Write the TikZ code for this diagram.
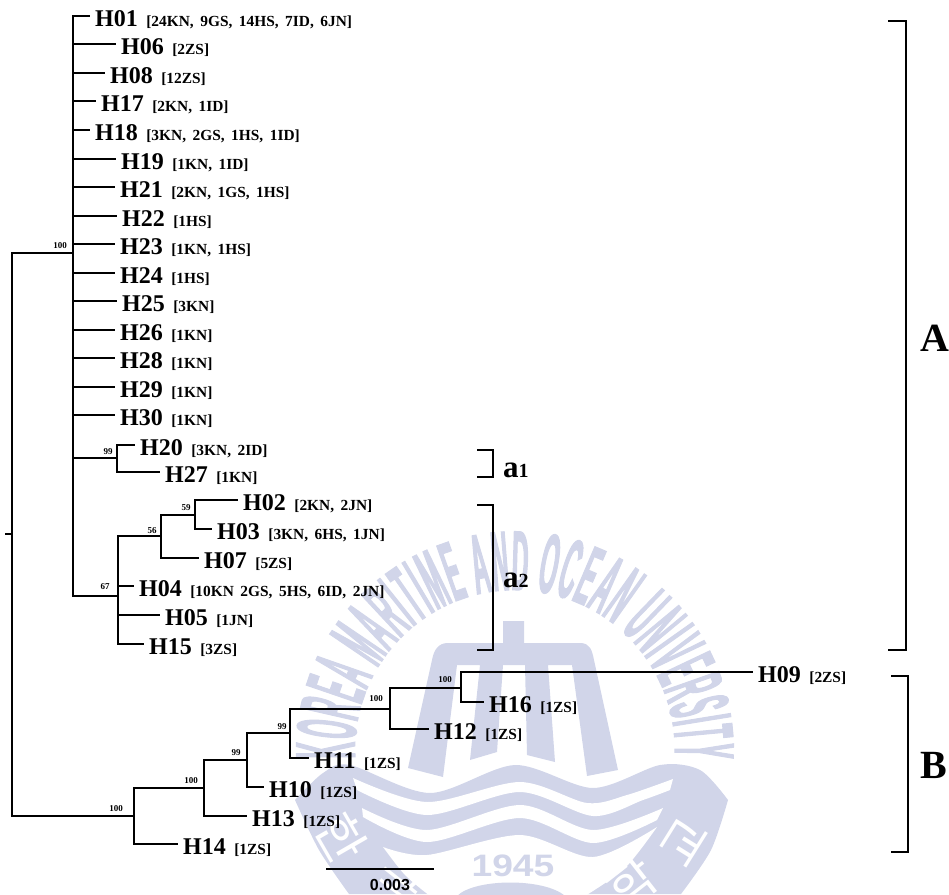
\documentclass[tikz,border=0pt]{standalone}
\usepackage{fontspec}
\setmainfont{Liberation Serif}
\newfontfamily\scalefont{Liberation Sans}
\newfontfamily\wmfont[FakeStretch=0.27,FakeBold=1.2]{Liberation Sans Bold}
\newfontfamily\krfont{Noto Sans CJK KR}
\usetikzlibrary{decorations.text}
\definecolor{wmblue}{HTML}{D1D5E9}
\newcommand\spl[1]{\hspace{8.5pt}{\fontsize{15.4}{16}\selectfont\spaceskip=6.5pt[#1]}}
\newcommand\wmstyle{\wmfont\fontsize{85}{85}\selectfont\color{wmblue}}
\tikzset{
  branch/.style={line width=2.2pt,black},
  clade/.style={line width=2.6pt,black},
  leaf/.style={anchor=west,inner xsep=5pt,inner ysep=0pt,text height=20pt,text depth=0pt,font=\fontsize{24}{24}\selectfont\bfseries},
  boot/.style={inner sep=0pt,font=\fontsize{9}{9}\selectfont\bfseries},
  bigtag/.style={anchor=base west,inner sep=0pt,font=\fontsize{40}{40}\selectfont\bfseries},
  smalltag/.style={anchor=base west,inner sep=0pt,font=\fontsize{31}{31}\selectfont\bfseries},
  korean/.style={inner sep=0pt,white,font=\krfont\fontsize{50}{50}\selectfont},
}
\begin{document}
\begin{tikzpicture}[x=1pt,y=-1pt]
\useasboundingbox (0,0) rectangle (949,894);
\begin{scope}
\clip (0,0) rectangle (949,894);
\path[decorate,decoration={text along path,text align={fit to path},text={|\wmstyle|KOREA MARITIME AND OCEAN UNIVERSITY}}]
  (355.2,758.4) arc[start angle=183,end angle=-3,radius=160pt];
\fill[wmblue] (503,621) -- (524,621) -- (524,643) -- (580,643) .. controls (590,643) and (592,650) .. (594,660) -- (618,770) -- (587,776) -- (572,665) -- (548,665) -- (555,762) -- (527,755) -- (525,665) -- (503,665) -- (497,752) -- (470,760) -- (480,665) -- (457,665) -- (443,777) -- (408,768) -- (432,660) .. controls (434,650) and (438,643) .. (448,643) -- (503,643) -- cycle;
\fill[wmblue] plot[smooth] coordinates {(295,800) (323,773) (350,765) (430,793) (515,765) (593,788) (660,765) (700,770) (728,800)}
  -- plot[smooth] coordinates {(728,800) (711,850) (681,894)}
  -- plot[smooth] coordinates {(349,894) (319,850) (295,800)} -- cycle;
\fill[white] plot[smooth] coordinates {(353,778) (427,802) (520,782) (587,803) (627,795) (673,779)}
  -- plot[smooth] coordinates {(670,790) (643,800) (593,816) (520,792) (427,815) (357,790)} -- cycle;
\fill[white] plot[smooth] coordinates {(362,808) (427,830) (520,805) (593,830) (663,808)}
  -- plot[smooth] coordinates {(657,820) (593,843) (520,818) (427,842) (363,817)} -- cycle;
\fill[white] plot[smooth] coordinates {(383,847) (427,855) (520,835) (593,857) (657,827)}
  -- plot[smooth] coordinates {(657,827) (625,868) (585,896)} -- (430,896)
  -- plot[smooth] coordinates {(430,896) (405,875) (383,847)} -- cycle;
\fill[wmblue] (457,896) .. controls (475,878) and (545,878) .. (565,896) -- cycle;
\node[inner sep=0pt,wmblue,xscale=1.2] (wmyear) at (513,866) {\scalefont\bfseries\fontsize{31}{31}\selectfont 1945};
\node[korean,rotate=-60] (wmk1) at (342,838) {한};
\node[korean,rotate=-38] (wmk2) at (398,884) {국};
\node[korean,rotate=38] (wmk3) at (632,882) {학};
\node[korean,rotate=58] (wmk4) at (684,842) {교};
\end{scope}

\coordinate (stub) at (5,534);
\coordinate (root) at (12,534);
\coordinate (nA) at (73,253);
\coordinate (nAa) at (117,458);
\coordinate (nAb) at (118,596);
\coordinate (nAc) at (161,536);
\coordinate (nAd) at (195,515);
\coordinate (nB) at (134,816);
\coordinate (nB1) at (204,788);
\coordinate (nB2) at (247,760);
\coordinate (nB3) at (290,733);
\coordinate (nB4) at (390,709);
\coordinate (nB5) at (461,688);

\node[leaf] (h01) at (90,16) {H01\spl{24KN, 9GS, 14HS, 7ID, 6JN}};
\node[leaf] (h06) at (116,44) {H06\spl{2ZS}};
\node[leaf] (h08) at (105,73) {H08\spl{12ZS}};
\node[leaf] (h17) at (96,101) {H17\spl{2KN, 1ID}};
\node[leaf] (h18) at (90,130) {H18\spl{3KN, 2GS, 1HS, 1ID}};
\node[leaf] (h19) at (116,159) {H19\spl{1KN, 1ID}};
\node[leaf] (h21) at (115,187) {H21\spl{2KN, 1GS, 1HS}};
\node[leaf] (h22) at (117,216) {H22\spl{1HS}};
\node[leaf] (h23) at (115,244) {H23\spl{1KN, 1HS}};
\node[leaf] (h24) at (115,273) {H24\spl{1HS}};
\node[leaf] (h25) at (117,301) {H25\spl{3KN}};
\node[leaf] (h26) at (115,330) {H26\spl{1KN}};
\node[leaf] (h28) at (115,358) {H28\spl{1KN}};
\node[leaf] (h29) at (115,387) {H29\spl{1KN}};
\node[leaf] (h30) at (115,415) {H30\spl{1KN}};
\node[leaf] (h20) at (135,445) {H20\spl{3KN, 2ID}};
\node[leaf] (h27) at (160,472) {H27\spl{1KN}};
\node[leaf] (h02) at (238,500) {H02\spl{2KN, 2JN}};
\node[leaf] (h03) at (212,529) {H03\spl{3KN, 6HS, 1JN}};
\node[leaf] (h07) at (199,558) {H07\spl{5ZS}};
\node[leaf] (h04) at (134,586) {H04\spl{10KN 2GS, 5HS, 6ID, 2JN}};
\node[leaf] (h05) at (160,615) {H05\spl{1JN}};
\node[leaf] (h15) at (144,644) {H15\spl{3ZS}};
\node[leaf] (h09) at (753,672) {H09\spl{2ZS}};
\node[leaf] (h16) at (484,702) {H16\spl{1ZS}};
\node[leaf] (h12) at (429,729) {H12\spl{1ZS}};
\node[leaf] (h11) at (309,758) {H11\spl{1ZS}};
\node[leaf] (h10) at (264,787) {H10\spl{1ZS}};
\node[leaf] (h13) at (247,816) {H13\spl{1ZS}};
\node[leaf] (h14) at (178,844) {H14\spl{1ZS}};

\draw[branch] (stub) -- (root);
\draw[branch] (root) |- (nA);
\draw[branch] (root) |- (nB);
\draw[branch] (nA) |- (h01.west);
\draw[branch] (nA) |- (h06.west);
\draw[branch] (nA) |- (h08.west);
\draw[branch] (nA) |- (h17.west);
\draw[branch] (nA) |- (h18.west);
\draw[branch] (nA) |- (h19.west);
\draw[branch] (nA) |- (h21.west);
\draw[branch] (nA) |- (h22.west);
\draw[branch] (nA) |- (h23.west);
\draw[branch] (nA) |- (h24.west);
\draw[branch] (nA) |- (h25.west);
\draw[branch] (nA) |- (h26.west);
\draw[branch] (nA) |- (h28.west);
\draw[branch] (nA) |- (h29.west);
\draw[branch] (nA) |- (h30.west);
\draw[branch] (nA) |- (nAa);
\draw[branch] (nA) |- (nAb);
\draw[branch] (nAa) |- (h20.west);
\draw[branch] (nAa) |- (h27.west);
\draw[branch] (nAb) |- (nAc);
\draw[branch] (nAb) |- (h04.west);
\draw[branch] (nAb) |- (h05.west);
\draw[branch] (nAb) |- (h15.west);
\draw[branch] (nAc) |- (nAd);
\draw[branch] (nAc) |- (h07.west);
\draw[branch] (nAd) |- (h02.west);
\draw[branch] (nAd) |- (h03.west);
\draw[branch] (nB) |- (nB1);
\draw[branch] (nB) |- (h14.west);
\draw[branch] (nB1) |- (nB2);
\draw[branch] (nB1) |- (h13.west);
\draw[branch] (nB2) |- (nB3);
\draw[branch] (nB2) |- (h10.west);
\draw[branch] (nB3) |- (nB4);
\draw[branch] (nB3) |- (h11.west);
\draw[branch] (nB4) |- (nB5);
\draw[branch] (nB4) |- (h12.west);
\draw[branch] (nB5) |- (h09.west);
\draw[branch] (nB5) |- (h16.west);

\node[boot] (bA) at (60,246) {100};
\node[boot] (bAa) at (108,452) {99};
\node[boot] (bAb) at (105,587) {67};
\node[boot] (bAc) at (152,531) {56};
\node[boot] (bAd) at (186,508) {59};
\node[boot] (bB) at (116,809) {100};
\node[boot] (bB1) at (191,781) {100};
\node[boot] (bB2) at (236,753) {99};
\node[boot] (bB3) at (282,727) {99};
\node[boot] (bB4) at (376,699) {100};
\node[boot] (bB5) at (445,680) {100};

\coordinate (brAt) at (888,21);
\coordinate (brAb) at (888,650);
\coordinate (brBt) at (891,676);
\coordinate (brBb) at (891,852);
\coordinate (bra1t) at (477,450);
\coordinate (bra1b) at (477,477);
\coordinate (bra2t) at (477,505);
\coordinate (bra2b) at (477,650);
\draw[clade] (brAt) -- ++(18,0) |- (brAb);
\draw[clade] (brBt) -- ++(17,0) |- (brBb);
\draw[clade] (bra1t) -- ++(16,0) |- (bra1b);
\draw[clade] (bra2t) -- ++(16,0) |- (bra2b);
\node[bigtag] (tagA) at (920,351) {A};
\node[bigtag] (tagB) at (920,778) {B};
\node[smalltag] (taga1) at (503,477) {a{\fontsize{20}{20}\selectfont 1}};
\node[smalltag] (taga2) at (503,587) {a{\fontsize{20}{20}\selectfont 2}};

\coordinate (sclL) at (326,869);
\coordinate (sclR) at (434,869);
\draw[branch] (sclL) -- (sclR);
\node[inner sep=0pt,font=\scalefont\bfseries\fontsize{16}{16}\selectfont] (scl) at (390,885) {0.003};
\end{tikzpicture}
\end{document}
